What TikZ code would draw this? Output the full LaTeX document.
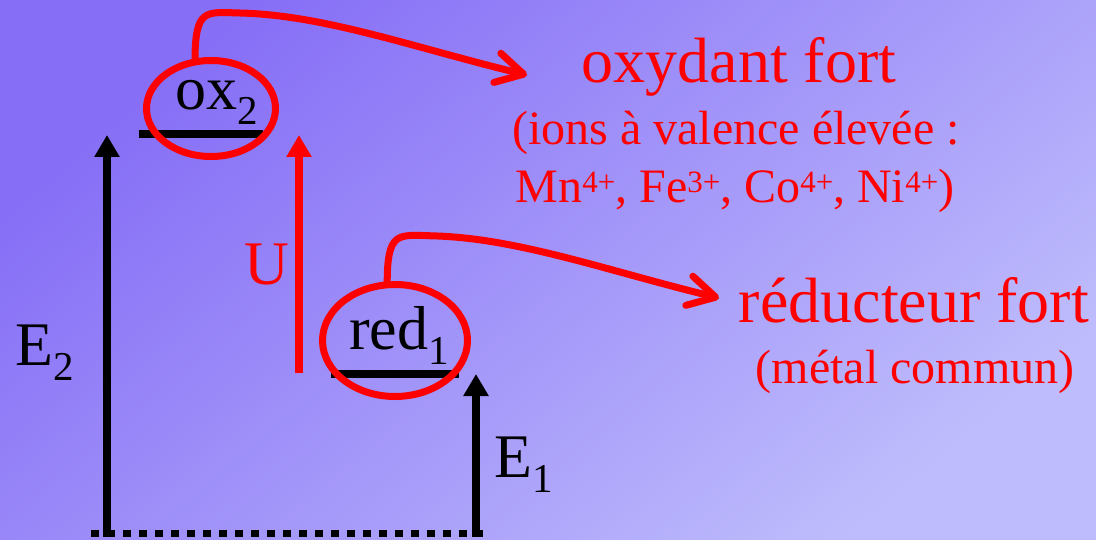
\documentclass[tikz,border=0pt]{standalone}
\usepackage{fontspec}
\setmainfont{Liberation Serif}
\usetikzlibrary{arrows.meta,shapes.geometric,calc}
\definecolor{bgA}{RGB}{134,110,246}
\definecolor{bgB}{RGB}{190,188,252}
\newcommand\subx[1]{\raisebox{-15pt}{\fontsize{41}{41}\selectfont #1}}
\newcommand\supx[1]{\raisebox{10pt}{\fontsize{31}{31}\selectfont #1}}
\begin{document}
\begin{tikzpicture}[x=1pt,y=-1pt,
 big/.style={inner sep=0pt, anchor=base west, font=\fontsize{62}{62}\selectfont},
 bigc/.style={inner sep=0pt, anchor=base, text=red, font=\fontsize{64}{64}\selectfont},
 small/.style={inner sep=0pt, anchor=base, text=red, font=\fontsize{48}{48}\selectfont},
 level/.style={line width=8pt},
 blackarrow/.style={line width=8pt, -{Triangle[length=22pt,width=24pt]}},
 redarrow/.style={blackarrow, draw=red, fill=red},
 ring/.style={ellipse, draw=red, line width=7pt, inner sep=0pt, outer sep=0pt},
 curvearrow/.style={draw=red, line width=7pt, -{Straight Barb[length=27pt,width=30pt,round]}},
]
\shade[top color=bgA, bottom color=bgB, shading angle=40] (0,0) rectangle (1096,540);
\useasboundingbox (0,0) rectangle (1096,540);

% levels
\coordinate (oxL) at (139,134);
\coordinate (oxR) at (263,134);
\coordinate (rdL) at (331,374);
\coordinate (rdR) at (459,374);
\draw[level] (oxL) -- (oxR);
\draw[level] (rdL) -- (rdR);

% dotted base line
\coordinate (baseL) at (91,533.5);
\coordinate (baseR) at (483,533.5);
\draw[line width=7pt, dash pattern=on 8pt off 8pt] (baseL) -- (baseR);

% vertical arrows
\coordinate (e2b) at (107,537);
\coordinate (e2t) at (107,135);
\coordinate (e1b) at (476,537);
\coordinate (e1t) at (476,374);
\coordinate (ub) at (299,373);
\coordinate (ut) at (299,135);
\draw[blackarrow] (e2b) -- (e2t);
\draw[blackarrow] (e1b) -- (e1t);
\draw[redarrow] (ub) -- (ut);

% rings
\node[ring, minimum width=129pt, minimum height=96pt] (oxe) at (211,108.5) {};
\node[ring, minimum width=145pt, minimum height=112pt] (rede) at (395,340.5) {};

% labels
\node[big] (ox) at (175,110) {ox\subx{2}};
\node[big] (red) at (349,349) {red\subx{1}};
\node[big] (E2) at (15,366) {E\subx{2}};
\node[big] (E1) at (494,477) {E\subx{1}};
\node[big, text=red] (U) at (244,285) {U};

\node[bigc] (oxf) at (739,83) {oxydant fort};
\node[small] (ions) at (736,145) {(ions à valence élevée :};
\node[small] (mn) at (735,203) {Mn\supx{4+}, Fe\supx{3+}, Co\supx{4+}, Ni\supx{4+})};
\node[bigc] (redf) at (914,323) {réducteur fort};
\node[small] (met) at (915,383) {(métal commun)};

% curved arrows
\coordinate (s1) at (oxe.109);
\coordinate (t1) at (527,75);
\draw[curvearrow] (s1) .. controls ($(s1)+(0,-54)$) and ($(s1)+(10,-50)$) .. ($(s1)+(45,-49)$)
  .. controls ($(s1)+(130,-47)$) and ($(s1)+(220,-14)$) .. (t1);
\coordinate (s2) at (rede.98);
\coordinate (t2) at (719,298);
\draw[curvearrow] (s2) .. controls ($(s2)+(0,-54)$) and ($(s2)+(10,-50)$) .. ($(s2)+(45,-49)$)
  .. controls ($(s2)+(130,-47)$) and ($(s2)+(220,-14)$) .. (t2);
\end{tikzpicture}
\end{document}
